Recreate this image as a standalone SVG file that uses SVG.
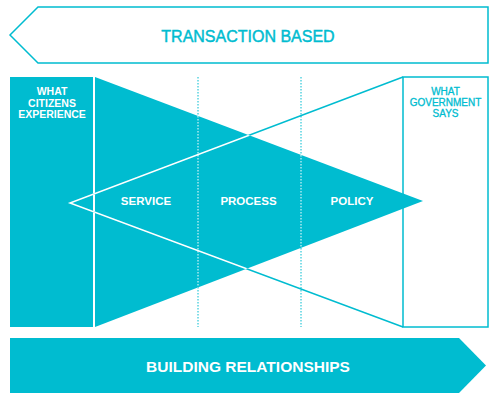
<svg xmlns="http://www.w3.org/2000/svg" width="500" height="406" viewBox="0 0 500 406">
  <defs>
    <style>
      .fill { fill: #00bcd0; }
      .out { fill: none; stroke: #00bcd0; stroke-width: 1.5; }
      .wline { fill: none; stroke: #ffffff; stroke-width: 1.5; }
      .tline { fill: none; stroke: #00bcd0; stroke-width: 1.5; }
      .dot { stroke-width: 1; stroke-dasharray: 1.5 1.5; }
      .t { font-family: "Liberation Sans", Arial, sans-serif; text-anchor: middle; }
      .w { fill: #ffffff; font-weight: bold; }
      .c { fill: #00bcd0; stroke: #00bcd0; stroke-width: 0.45; }
    </style>
    <clipPath id="filled">
      <rect x="10" y="77" width="86" height="250"/>
      <polygon points="95,77 95,327 423,201"/>
    </clipPath>
  </defs>

  <g id="transaction-based">
    <polygon class="out" points="10,35 38,7 488,7 488,63 38,63"/>
    <text class="t c" x="248" y="41.5" font-size="16">TRANSACTION BASED</text>
  </g>

  <g id="citizens">
    <rect class="fill" x="10" y="77" width="83" height="250"/>
    <text class="t w" font-size="10.5"><tspan x="52" y="95">WHAT</tspan><tspan x="52" y="106.5">CITIZENS</tspan><tspan x="52" y="118">EXPERIENCE</tspan></text>
  </g>

  <g id="funnel">
    <polygon class="fill" points="95,77 95,327 423,201"/>
  </g>

  <g id="government">
    <rect class="out" x="403" y="77" width="85" height="250"/>
    <text class="t c" font-size="10" style="stroke-width:0.3"><tspan x="445.5" y="95">WHAT</tspan><tspan x="445.5" y="106">GOVERNMENT</tspan><tspan x="445.5" y="117">SAYS</tspan></text>
  </g>

  <g id="connectors">
    <polyline class="tline" points="403,77 70,203 403,327"/>
    <line class="tline dot" x1="198" y1="77" x2="198" y2="327"/>
    <line class="tline dot" x1="301" y1="77" x2="301" y2="327"/>
    <g clip-path="url(#filled)">
      <polyline class="wline" points="403,77 70,203 403,327"/>
      <line class="wline dot" x1="198" y1="77" x2="198" y2="327"/>
      <line class="wline dot" x1="301" y1="77" x2="301" y2="327"/>
    </g>
  </g>

  <g id="service"><text class="t w" x="146" y="205" font-size="11.5">SERVICE</text></g>
  <g id="process"><text class="t w" x="248.5" y="205" font-size="11.5">PROCESS</text></g>
  <g id="policy"><text class="t w" x="352" y="205" font-size="11.5">POLICY</text></g>

  <g id="building-relationships">
    <polygon class="fill" points="10,338 459,338 486,365.5 459,393 10,393"/>
    <text class="t w" x="248" y="371.5" font-size="15.5">BUILDING RELATIONSHIPS</text>
  </g>
</svg>
